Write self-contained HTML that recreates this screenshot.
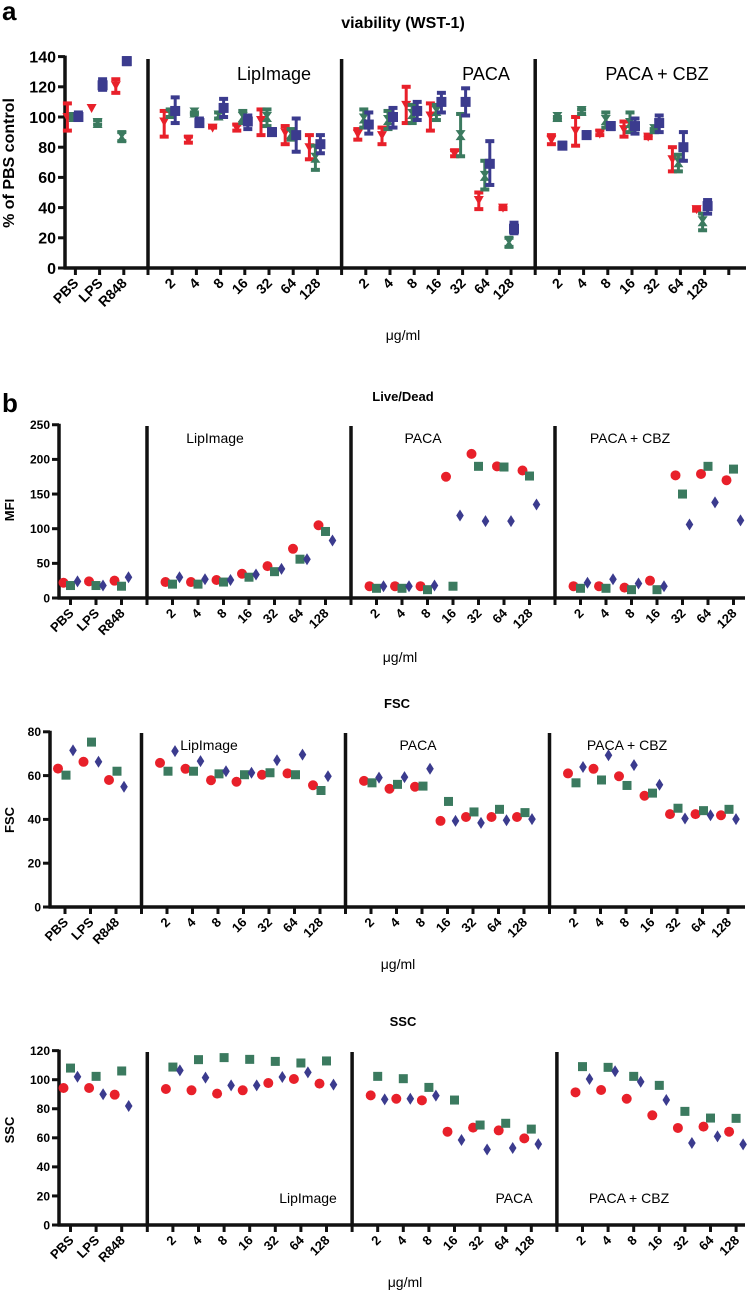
<!DOCTYPE html>
<html><head><meta charset="utf-8"><style>
html,body{margin:0;padding:0;background:#fff}
svg{display:block}
text{font-family:"Liberation Sans",Arial,sans-serif}
</style></head><body>
<svg id="fig" width="749" height="1290" viewBox="0 0 749 1290" xmlns="http://www.w3.org/2000/svg">
<text x="2" y="20" font-size="26" font-weight="bold">a</text>
<text x="403" y="28" font-size="16" font-weight="bold" text-anchor="middle">viability (WST-1)</text>
<text x="2" y="412" font-size="26" font-weight="bold">b</text>
<text x="403" y="401" font-size="13" font-weight="bold" text-anchor="middle">Live/Dead</text>
<text x="397" y="708" font-size="13" font-weight="bold" text-anchor="middle">FSC</text>
<text x="403" y="1026" font-size="13" font-weight="bold" text-anchor="middle">SSC</text>
</svg>
<script>
// shared categories
const catLabels = ["PBS","LPS","R848","2","4","8","16","32","64","128","2","4","8","16","32","64","128","2","4","8","16","32","64","128"];
const catIndex = [0,1,2,4,5,6,7,8,9,10,12,13,14,15,16,17,18,20,21,22,23,24,25,26];
const groupNames = ["LipImage","PACA","PACA + CBZ"];

// panel a: viability (WST-1)
const aRed   = [100,106,121, 97,85,93,93,98,90,80, 89,88,108,101,76,45,40, 85,91,89,92,87,72,39];
const aRedLo = [90,106,115, 86,82,92,90,87,81,71, 84,81,95,90,73,38,38, 81,80,87,86,85,63,37];
const aRedHi = [110,106,126, 105,88,95,96,106,95,89, 93,94,121,110,79,51,41, 89,101,92,98,89,81,41];
const aGreen   = [100,96,87, 102,103,101,100,100,89,73, 99,98,102,104,88,61,17, 100,104,98,96,92,70,31];
const aGreenLo = [98,94,83, 99,101,98,95,93,84,64, 92,91,95,97,73,51,13, 97,101,92,89,89,63,24];
const aGreenHi = [102,99,91, 106,104,104,105,106,93,82, 106,105,109,109,103,72,21, 101,106,104,104,93,76,37];
const aBlue   = [100,121,137, 104,96,106,97,90,88,82, 95,100,104,110,110,69,26, 81,88,94,94,96,80,41];
const aBlueLo = [97,117,134, 95,93,99,91,88,76,75, 88,92,97,102,100,54,22, 79,86,91,88,89,70,35];
const aBlueHi = [104,126,140, 114,100,113,102,93,100,89, 104,107,111,117,120,85,31, 84,91,97,100,102,91,46];
const aTicks = [0,20,40,60,80,100,120,140];

// panel b: Live/Dead MFI
const ldRed   = [22,24,25, 23,23,26,35,46,71,105, 17,17,17,175,208,190,184, 17,17,15,25,177,179,170];
const ldGreen = [18,18,17, 20,20,23,30,38,56,96, 14,14,12,17,190,189,176, 14,14,12,12,150,190,186];
const ldBlue  = [24,18,30, 30,27,26,34,42,56,83, 17,17,18,119,111,111,135, 22,27,21,17,106,138,112];
const ldTicks = [0,50,100,150,200,250];

// FSC
const fscRed   = [63.2,66.3,58, 65.8,63.1,57.9,57.2,60.4,61,55.6, 57.6,54,54.9,39.3,41.1,41.1,41.1, 61,63.1,59.7,50.8,42.4,42.4,41.9];
const fscGreen = [60.2,75.3,62, 62,62,60.8,60.4,61.3,60.4,53.2, 56.7,56,55.2,48.2,43.4,44.6,43.1, 56.7,58,55.5,52,45.1,44,44.6];
const fscBlue  = [71.5,66.3,54.9, 71.2,66.6,62,61.3,67,69.6,59.7, 59.1,59.3,63.1,39.3,38.4,39.6,40.1, 63.9,69.3,64.8,55.8,40.4,41.9,40.1];
const fscTicks = [0,20,40,60,80];

// SSC
const sscRed   = [94.3,94.3,89.7, 93.6,92.7,90.4,92.7,97.7,100.5,97.3, 89.2,86.9,85.8,64.2,67,65.1,59.6, 91.3,92.9,86.9,75.5,66.8,67.7,64.2];
const sscGreen = [108,102.3,106, 108.7,113.8,115.2,114,112.6,111.5,112.9, 102.3,100.7,94.7,86,68.8,70,66, 109,108.5,102.3,96.1,78.2,73.6,73.4];
const sscBlue  = [102,90,81.9, 106.4,101.4,96.1,96.1,101.9,105,96.6, 86.5,86.9,89,58.5,52,53,55.7, 100.5,105.8,98.6,86,56.4,61,55.5];
const sscTicks = [0,20,40,60,80,100,120];

const NS = "http://www.w3.org/2000/svg";
const svg = document.getElementById('fig');
const RED="#e8202a", GREEN="#3b7a5f", BLUE="#3b3b8e";
function mk(tag, attrs, parent){
  const e=document.createElementNS(NS,tag);
  for(const k in attrs) e.setAttribute(k,attrs[k]);
  (parent||svg).appendChild(e); return e;
}
function txt(x,y,s,attrs){const t=mk('text',Object.assign({x:x,y:y},attrs||{}));t.textContent=s;return t;}

function axes(P){
  const g=mk('g',{});
  
  
  const yTop=P.y0-P.max*P.k;
  const ya=mk('line',{x1:P.ax,y1:yTop-1,x2:P.ax,y2:P.y0,stroke:'#111','stroke-width':3.5},g);
  
  
  const xa=mk('line',{x1:P.ax-1.5,y1:P.y0,x2:P.xr,y2:P.y0,stroke:'#111','stroke-width':3.5},g);
  
  
  P.ticks.forEach(v=>{
    const y=P.y0-v*P.k;
    mk('line',{x1:P.ax-7,y1:y,x2:P.ax,y2:y,stroke:'#111','stroke-width':3},g);
    const t=txt(P.ax-9,y+P.tfs*0.36,String(v),{'font-size':P.tfs,'font-weight':'bold','text-anchor':'end'});
    
    
  });
  for(let i=0;i<=P.nTicks;i++){
    const x=P.xi(i);
    mk('line',{x1:x,y1:P.y0,x2:x,y2:P.y0+7,stroke:'#111','stroke-width':3},g);
  }
  [3,11,19].forEach(i=>{
    const s=mk('line',{x1:P.xi(i),y1:P.sepTop,x2:P.xi(i),y2:P.y0,stroke:'#111','stroke-width':3.5},g);
    
    
  });
  catLabels.forEach((l,j)=>{
    const x=P.xi(catIndex[j])+4, y=P.y0+16;
    const t=txt(x,y,l,{'font-size':P.lfs,'font-weight':'bold','text-anchor':'end',transform:'rotate(-45 '+x+' '+y+')'});
    
    
  });
  const yl=txt(P.ylx,P.yly,P.ylabel,{'font-size':P.ylfs,'font-weight':'bold','text-anchor':'middle',transform:'rotate(-90 '+P.ylx+' '+P.yly+')'});
  
  
  const ul=txt(P.ux,P.uy,'μg/ml',{'font-size':14,'text-anchor':'middle'});
  
  
  groupNames.forEach((n,j)=>{
    const t=txt(P.gx[j],P.gy,n,{'font-size':P.gfs,'text-anchor':'middle'});
    
    
  });
}
function marker(shape,x,y,c,s){
  if(shape==='circle') return mk('circle',{cx:x,cy:y,r:s/2,fill:c});
  if(shape==='square') return mk('rect',{x:x-s/2,y:y-s/2,width:s,height:s,fill:c});
  if(shape==='diamond') return mk('polygon',{points:[x,y-s*0.6,x+s*0.38,y,x,y+s*0.6,x-s*0.38,y].join(','),fill:c});
  if(shape==='tri') return mk('polygon',{points:[x-s/2,y-s*0.4,x+s/2,y-s*0.4,x,y+s*0.5].join(','),fill:c});
  if(shape==='hour') return mk('polygon',{points:[x-s/2,y-s/2,x+s/2,y-s/2,x+s*0.15,y,x+s/2,y+s/2,x-s/2,y+s/2,x-s*0.15,y].join(','),fill:c});
}
function series(P,vals,lo,hi,shape,color,off,size,nm){
  vals.forEach((v,j)=>{
    const x=P.xi(catIndex[j])+off, y=P.y0-v*P.k;
    if(lo){
      const y1=P.y0-lo[j]*P.k, y2=P.y0-hi[j]*P.k;
      if(Math.abs(y1-y2)>2){
        const eb=mk('g',{});
        
        
        mk('line',{x1:x,y1:y1,x2:x,y2:y2,stroke:color,'stroke-width':3},eb);
        mk('rect',{x:x-4.5,y:y1-3.5,width:9,height:4,fill:color},eb);
        mk('rect',{x:x-4.5,y:y2-0.5,width:9,height:4,fill:color},eb);
      }
    }
    const m=marker(shape,x,y,color,size);
    
    
  });
}

// Panel A
const PA={name:'viability',ax:65,y0:268,k:1.51,max:140,xr:746,xi:i=>75.4+i*24.2,nTicks:27,sepTop:59,ticks:aTicks,tfs:16,lfs:14,
  ylabel:'% of PBS control',ylx:14,yly:163,ylfs:16,ux:403,uy:340,gx:[274,486,657],gy:80,gfs:18};
axes(PA);
series(PA,aRed,aRedLo,aRedHi,'tri',RED,-8,10,'viability-red');
series(PA,aGreen,aGreenLo,aGreenHi,'hour',GREEN,-2,10,'viability-green');
series(PA,aBlue,aBlueLo,aBlueHi,'square',BLUE,3,10,'viability-blue');

// Live/Dead
const PL={name:'livedead',ax:59,y0:598,k:0.693,max:250,xr:745,xi:i=>70.5+i*25.5,nTicks:26,sepTop:426,ticks:ldTicks,tfs:12,lfs:13,
  ylabel:'MFI',ylx:14,yly:510,ylfs:13,ux:400,uy:662,gx:[215,423,630],gy:443,gfs:14};
axes(PL);
series(PL,ldRed,null,null,'circle',RED,-7,10,'livedead-red');
series(PL,ldGreen,null,null,'square',GREEN,0,9,'livedead-green');
series(PL,ldBlue,null,null,'diamond',BLUE,7,10,'livedead-blue');

// FSC
const PF={name:'fsc',ax:50,y0:907,k:2.19,max:80,xr:745,xi:i=>65+i*25.5,nTicks:26,sepTop:733,ticks:fscTicks,tfs:12,lfs:13,
  ylabel:'FSC',ylx:14,yly:820,ylfs:13,ux:398,uy:969,gx:[209,418,627],gy:750,gfs:14};
axes(PF);
series(PF,fscRed,null,null,'circle',RED,-7,10,'fsc-red');
series(PF,fscGreen,null,null,'square',GREEN,1,9,'fsc-green');
series(PF,fscBlue,null,null,'diamond',BLUE,8,10,'fsc-blue');

// SSC
const PS={name:'ssc',ax:59,y0:1225,k:1.453,max:120,xr:745,xi:i=>70.5+i*25.6,nTicks:26,sepTop:1052,ticks:sscTicks,tfs:12,lfs:13,
  ylabel:'SSC',ylx:14,yly:1130,ylfs:13,ux:405,uy:1287,gx:[308,514,629],gy:1203,gfs:14};
axes(PS);
series(PS,sscRed,null,null,'circle',RED,-7,10,'ssc-red');
series(PS,sscGreen,null,null,'square',GREEN,0,9,'ssc-green');
series(PS,sscBlue,null,null,'diamond',BLUE,7,10,'ssc-blue');
</script>
</body></html>
